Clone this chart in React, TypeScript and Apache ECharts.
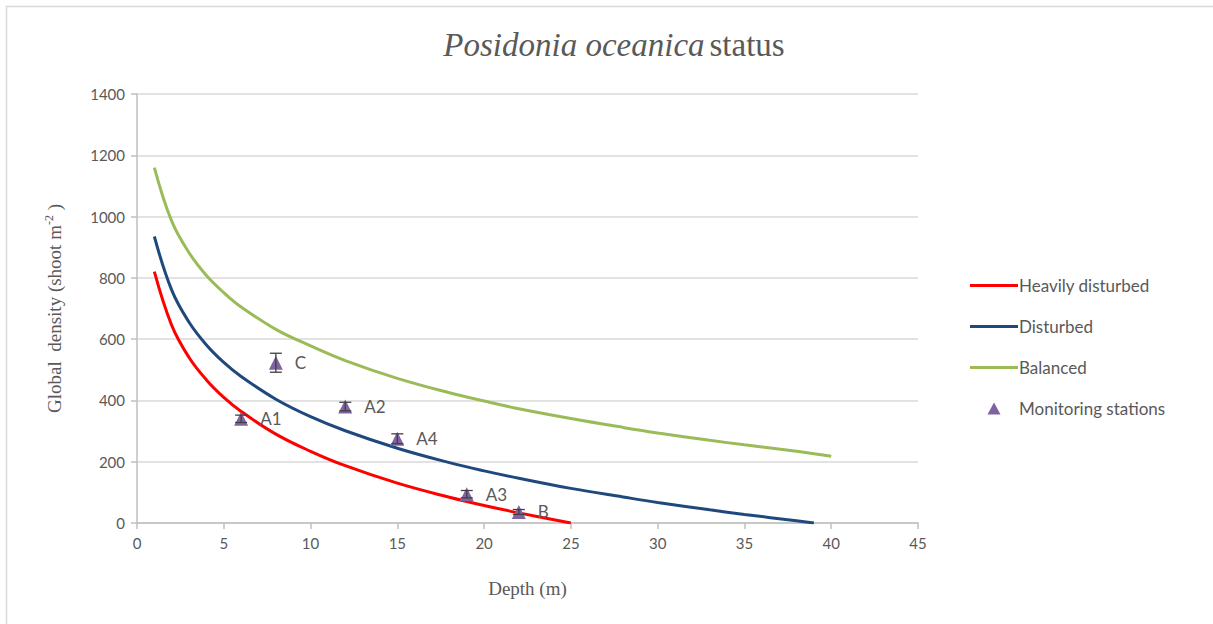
import React, { useEffect, useRef } from "react";
import * as echarts from "echarts";

// Depth (m) readings for each classification curve
const heavyDepth = [1, 2, 3, 4, 5, 6, 8, 10, 12, 15, 18, 20, 22, 25];
const heavyDensity = [820, 645, 540, 467, 410, 364, 290, 234, 187, 130, 84, 57, 33, 0];

const disturbedDepth = [1, 2, 3, 4, 5, 6, 8, 10, 12, 15, 18, 20, 22, 25, 28, 30, 33, 35, 38, 39];
const disturbedDensity = [935, 760, 655, 581, 524, 478, 404, 347, 301, 244, 197, 170, 146, 113, 85, 67, 43, 28, 7, 0];

const balancedDepth = [1, 2, 3, 4, 5, 6, 8, 10, 12, 15, 18, 20, 22, 25, 28, 30, 33, 35, 38, 40];
const balancedDensity = [1160, 985, 882, 808, 752, 705, 632, 578, 530, 472, 425, 398, 373, 341, 312, 294, 270, 255, 234, 218];

// Monitoring stations
const stationNames = ["A1", "C", "A2", "A4", "A3", "B"];
const stationDepth = [6, 8, 12, 15, 19, 22];
const stationDensity = [340, 523, 380, 275, 94, 36];
const stationError = [12, 31, 14, 16, 12, 8];

const seriesNames = ["Heavily disturbed", "Disturbed", "Balanced", "Monitoring stations"];

const pairs = (xs: number[], ys: number[]) => xs.map((x, i) => [x, ys[i]]);

export default function App() {
  const ref = useRef<HTMLDivElement>(null);
  useEffect(() => {
    if (!ref.current) return;
    const chart = echarts.init(ref.current, undefined, { renderer: "svg" });
    const sans = "Lato, 'Open Sans', sans-serif";
    const serif = "'Liberation Serif', 'DejaVu Serif', serif";
    const lineIcon = "path://M0,0H48V3H0Z";
    const triIcon = "path://M6,0L12,11L0,11Z";
    const lineSeries = (name: string, xs: number[], ys: number[], color: string) => ({
      name,
      type: "line",
      data: pairs(xs, ys),
      smooth: 0.4,
      symbol: "none",
      lineStyle: { color, width: 3 },
      itemStyle: { color },
      z: 3,
    });
    chart.setOption({
      animation: false,
      backgroundColor: "#ffffff",
      title: {
        text: "{i|Posidonia oceanica} {n|status}",
        left: 609,
        textAlign: "center",
        top: 23,
        textStyle: {
          fontWeight: "normal",
          rich: {
            i: { fontFamily: serif, fontStyle: "italic", fontWeight: "normal", fontSize: 33, color: "#595959" },
            n: { fontFamily: serif, fontWeight: "normal", fontSize: 33, color: "#595959" },
          },
        },
      },
      graphic: [
        { type: "line", shape: { x1: 6, y1: 6.5, x2: 1213, y2: 6.5 }, style: { stroke: "#d9d9d9", lineWidth: 1.5 } },
        { type: "line", shape: { x1: 6.5, y1: 6, x2: 6.5, y2: 624 }, style: { stroke: "#d9d9d9", lineWidth: 1.5 } },
      ],
      legend: {
        orient: "vertical",
        left: 965,
        top: 272,
        itemGap: 24,
        itemWidth: 48,
        itemHeight: 12,
        data: [
          { name: seriesNames[0], icon: lineIcon },
          { name: seriesNames[1], icon: lineIcon },
          { name: seriesNames[2], icon: lineIcon },
          { name: seriesNames[3], icon: triIcon, itemStyle: { opacity: 1 } },
        ],
        textStyle: { fontFamily: sans, fontSize: 17, color: "#595959", padding: [0, 0, 0, -4] },
      },
      grid: { left: 137, top: 94, right: 295, bottom: 101, containLabel: false },
      xAxis: {
        type: "value",
        min: 0,
        max: 45,
        interval: 5,
        name: "Depth (m)",
        nameLocation: "middle",
        nameGap: 56,
        nameTextStyle: { fontFamily: serif, fontSize: 19, color: "#595959" },
        axisLine: { lineStyle: { color: "#bfbfbf", width: 1.5 } },
        axisTick: { show: true, length: 6, lineStyle: { color: "#bfbfbf", width: 1.5 } },
        axisLabel: { fontFamily: sans, fontSize: 15, color: "#595959", margin: 12 },
        splitLine: { show: false },
      },
      yAxis: {
        type: "value",
        min: 0,
        max: 1400,
        interval: 200,
        name: "{t|Global  density (shoot m}{s|-2}{t| )}",
        nameLocation: "middle",
        nameGap: 72,
        nameRotate: 90,
        nameTextStyle: {
          rich: {
            t: { fontFamily: serif, fontSize: 19, color: "#595959" },
            s: { fontFamily: serif, fontSize: 12, color: "#595959", verticalAlign: "top", padding: [0, 0, 10, 0] },
          },
        },
        axisLine: { show: true, lineStyle: { color: "#bfbfbf", width: 1.5 } },
        axisTick: { show: true, length: 6, lineStyle: { color: "#bfbfbf", width: 1.5 } },
        axisLabel: { fontFamily: sans, fontSize: 15, color: "#595959", margin: 12, formatter: (v: number) => String(v) },
        splitLine: { show: true, lineStyle: { color: "#d9d9d9", width: 1.5 } },
      },
      series: [
        lineSeries(seriesNames[0], heavyDepth, heavyDensity, "#ff0000"),
        lineSeries(seriesNames[1], disturbedDepth, disturbedDensity, "#1f497d"),
        lineSeries(seriesNames[2], balancedDepth, balancedDensity, "#9bbb59"),
        {
          name: seriesNames[3],
          type: "scatter",
          symbol: "triangle",
          symbolSize: 14,
          itemStyle: { color: "#8064a2", opacity: 1 },
          data: stationDepth.map((d, i) => ({ value: [d, stationDensity[i]], name: stationNames[i] })),
          label: {
            show: true,
            position: "right",
            distance: 12,
            formatter: (p: any) => p.name,
            fontFamily: sans,
            fontSize: 17,
            color: "#595959",
          },
          z: 5,
        },
        {
          name: "errors",
          type: "custom",
          silent: true,
          z: 6,
          data: stationDepth.map((d, i) => [d, stationDensity[i] - stationError[i], stationDensity[i] + stationError[i]]),
          renderItem: (params: any, api: any) => {
            const lo = api.coord([api.value(0), api.value(1)]);
            const hi = api.coord([api.value(0), api.value(2)]);
            const w = 6;
            const style = { stroke: "#404040", lineWidth: 1.3 };
            return {
              type: "group",
              children: [
                { type: "line", shape: { x1: lo[0], y1: lo[1], x2: hi[0], y2: hi[1] }, style },
                { type: "line", shape: { x1: lo[0] - w, y1: lo[1], x2: lo[0] + w, y2: lo[1] }, style },
                { type: "line", shape: { x1: hi[0] - w, y1: hi[1], x2: hi[0] + w, y2: hi[1] }, style },
              ],
            };
          },
        },
      ],
    });
    return () => chart.dispose();
  }, []);
  return <div ref={ref} style={{ position: "fixed", left: 0, top: 0, width: 1213, height: 624 }} />;
}
